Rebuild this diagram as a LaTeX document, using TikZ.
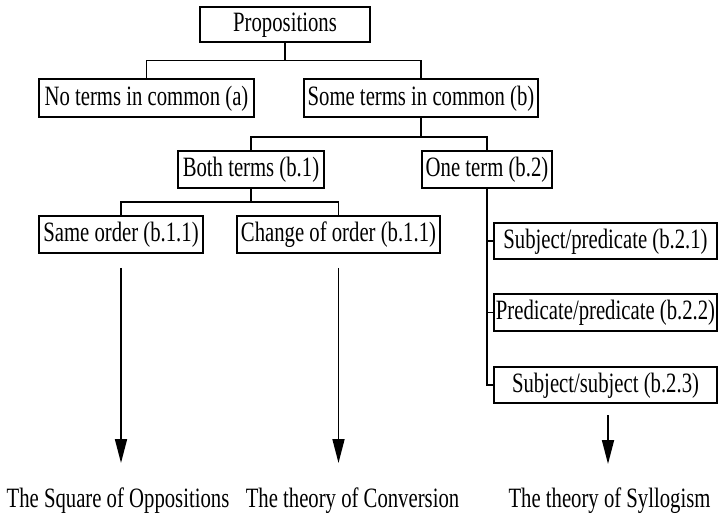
\documentclass[tikz,border=0pt]{standalone}
\usepackage{fontspec}
\setmainfont[FakeStretch=0.74]{Liberation Serif}
\usetikzlibrary{arrows.meta}
\begin{document}
\begin{tikzpicture}[x=1pt,y=-1pt,
  every node/.style={font=\fontsize{28}{30}\selectfont},
  box/.style={draw,line width=1.7pt,inner sep=0pt,text height=19.5pt,text depth=5.5pt,minimum height=37pt},
  lbl/.style={inner sep=0pt},
  link/.style={line width=1.7pt},
  arr/.style={line width=1.7pt,-{Triangle[length=24pt,width=12pt]}}]
\useasboundingbox (0,0) rectangle (719,517);

% levels of the tree
\node[box,minimum width=170pt,minimum height=35pt] (prop) at (285,24.5) {Propositions};
\node[box,minimum width=215pt,minimum height=38pt] (none) at (146.5,98) {No terms in common (a)};
\node[box,minimum width=234pt,minimum height=38pt] (some) at (421,98) {Some terms in common (b)};
\node[box,minimum width=146pt] (both) at (251,169.5) {Both terms (b.1)};
\node[box,minimum width=130pt] (one) at (487,169.5) {One term (b.2)};
\node[box,minimum width=164pt] (same) at (121,234.5) {Same order (b.1.1)};
\node[box,minimum width=203pt] (change) at (338.5,234.5) {Change of order (b.1.1)};
\node[box,minimum width=223pt,minimum height=36pt] (sp) at (605.5,241) {Subject/predicate (b.2.1)};
\node[box,minimum width=223pt] (pp) at (605.5,312.5) {Predicate/predicate (b.2.2)};
\node[box,minimum width=223pt,minimum height=36pt] (ss) at (605.5,385) {Subject/subject (b.2.3)};

% theories reached
\node[lbl,anchor=base] (square) at (118,507) {The Square of Oppositions};
\node[lbl,anchor=base] (conv) at (352.5,507) {The theory of Conversion};
\node[lbl,anchor=base] (syll) at (609.5,507) {The theory of Syllogism};

% tree connectors
\coordinate (j1) at (prop.south |- 0,60.5);
\draw[link] (prop.south) -- (j1);
\draw[link] (j1) -| (none.north);
\draw[link] (j1) -| (some.north);

\coordinate (j2) at (some.south |- 0,137);
\draw[link] (some.south) -- (j2);
\draw[link] (j2) -| (both.north);
\draw[link] (j2) -| (one.north);

\coordinate (j3) at (both.south |- 0,202);
\draw[link] (both.south) -- (j3);
\draw[link] (j3) -| (same.north);
\draw[link] (j3) -| (change.north);

\draw[link] (one.south) |- (sp.west);
\draw[link] (one.south) |- (pp.west);
\draw[link] (one.south) |- (ss.west);

% arrows to the theories
\coordinate (t1) at (same.south |- 0,463);
\coordinate (t2) at (change.south |- 0,463);
\coordinate (t3) at (608,464);
\coordinate (s3) at (608,415);
\draw[arr] ([yshift=-14pt]same.south) -- (t1);
\draw[arr] ([yshift=-14pt]change.south) -- (t2);
\draw[arr] (s3) -- (t3);
\end{tikzpicture}
\end{document}
